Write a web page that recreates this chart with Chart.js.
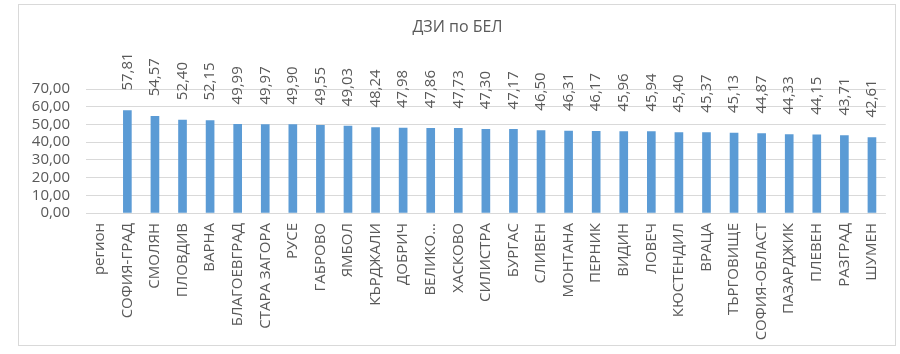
<!DOCTYPE html>
<html>
<head>
<meta charset="utf-8">
<script src="https://cdn.jsdelivr.net/npm/chart.js@4"></script>
<style>
html,body{margin:0;padding:0;background:#fff;}
#wrap{width:900px;height:354px;position:relative;}
</style>
</head>
<body>
<div id="wrap"><canvas id="c" width="900" height="354"></canvas></div>
<script>
const chartTitle = "ДЗИ по БЕЛ";
const categories = ["регион","СОФИЯ-ГРАД","СМОЛЯН","ПЛОВДИВ","ВАРНА","БЛАГОЕВГРАД","СТАРА ЗАГОРА","РУСЕ","ГАБРОВО","ЯМБОЛ","КЪРДЖАЛИ","ДОБРИЧ","ВЕЛИКО...","ХАСКОВО","СИЛИСТРА","БУРГАС","СЛИВЕН","МОНТАНА","ПЕРНИК","ВИДИН","ЛОВЕЧ","КЮСТЕНДИЛ","ВРАЦА","ТЪРГОВИЩЕ","СОФИЯ-ОБЛАСТ","ПАЗАРДЖИК","ПЛЕВЕН","РАЗГРАД","ШУМЕН"];
const values = [null,57.81,54.57,52.40,52.15,49.99,49.97,49.90,49.55,49.03,48.24,47.98,47.86,47.73,47.30,47.17,46.50,46.31,46.17,45.96,45.94,45.40,45.37,45.13,44.87,44.33,44.15,43.71,42.61];
const yMin = 0, yMax = 70, yStep = 10;

const FONT = "'Open Sans', 'DejaVu Sans', sans-serif";
const TXT = "#595959";
const fmt = v => v.toFixed(2).replace('.', ',');

const frame = {
  id: 'frame',
  beforeDraw(chart){
    const ctx = chart.ctx;
    ctx.save();
    ctx.fillStyle = '#fff';
    ctx.fillRect(0,0,chart.width,chart.height);
    ctx.strokeStyle = '#d9d9d9';
    ctx.lineWidth = 1;
    ctx.strokeRect(18.5,4.5,877,341);
    ctx.restore();
  }
};

const barLabels = {
  id: 'barLabels',
  afterDatasetsDraw(chart){
    const ctx = chart.ctx;
    const meta = chart.getDatasetMeta(0);
    ctx.save();
    ctx.font = "15px " + FONT;
    ctx.fillStyle = TXT;
    ctx.textAlign = 'left';
    ctx.textBaseline = 'middle';
    meta.data.forEach((el, i) => {
      const v = values[i];
      if (v === null || v === undefined) return;
      ctx.save();
      ctx.translate(el.x, el.y - 20);
      ctx.rotate(-Math.PI/2);
      ctx.fillText(fmt(v), 0, 0);
      ctx.restore();
    });
    ctx.restore();
  }
};

new Chart(document.getElementById('c'), {
  type: 'bar',
  data: {
    labels: categories,
    datasets: [{
      data: values,
      backgroundColor: '#5b9bd5',
      barThickness: 8,
      categoryPercentage: 1,
      barPercentage: 0.3
    }]
  },
  options: {
    responsive: false,
    animation: false,
    devicePixelRatio: 1,
    layout: { padding: { left: 18, right: 3, top: 4, bottom: 8 } },
    plugins: {
      legend: { display: false },
      tooltip: { enabled: false },
      title: {
        display: true,
        text: chartTitle,
        color: TXT,
        font: { family: FONT, size: 16, weight: 'normal' },
        padding: { top: 14, bottom: 51.8 }
      }
    },
    scales: {
      x: {
        grid: { display: false, drawTicks: false },
        border: { display: true, color: '#d9d9d9' },
        ticks: {
          autoSkip: false,
          minRotation: 90,
          maxRotation: 90,
          padding: 10,
          color: TXT,
          font: { family: FONT, size: 15 }
        },
        afterFit(scale){ scale.height = 133; }
      },
      y: {
        min: yMin,
        max: yMax,
        grid: { color: '#d9d9d9', drawTicks: false },
        border: { display: false },
        ticks: {
          stepSize: yStep,
          autoSkip: false,
          padding: 16,
          color: TXT,
          font: { family: FONT, size: 15 },
          callback: v => fmt(v)
        },
        afterFit(scale){ scale.width = 68; }
      }
    }
  },
  plugins: [frame, barLabels]
});
</script>
</body>
</html>
